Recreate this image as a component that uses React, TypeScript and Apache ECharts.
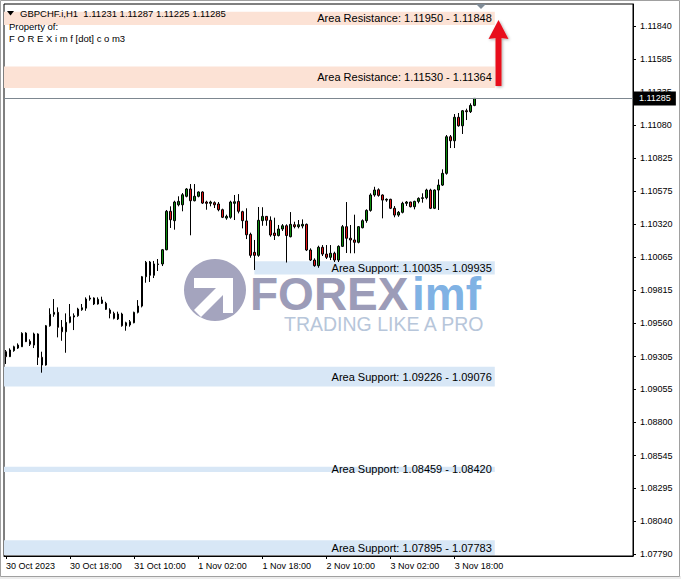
import React, { useEffect, useRef } from 'react';
import * as echarts from 'echarts';

// ---------- data ----------
const symbolName = 'GBPCHF.i,H1';
const firstBarTimeUTC = Date.UTC(2023, 9, 30, 2, 0); // 30 Oct 2023 02:00, hourly bars
const monthNames = ['Jan', 'Feb', 'Mar', 'Apr', 'May', 'Jun', 'Jul', 'Aug', 'Sep', 'Oct', 'Nov', 'Dec'];

const opens = [
  1.09342, 1.09304, 1.09350, 1.09370, 1.09380, 1.09485, 1.09422, 1.09393, 1.09478, 1.09299,
  1.09240, 1.09541, 1.09629, 1.09644, 1.09530, 1.09495, 1.09567, 1.09608, 1.09618, 1.09664,
  1.09676, 1.09746, 1.09754, 1.09708, 1.09738, 1.09713, 1.09662, 1.09636, 1.09593, 1.09631,
  1.09541, 1.09547, 1.09564, 1.09644, 1.09692, 1.09917, 1.10030, 1.09928, 1.10011, 1.10015,
  1.10124, 1.10419, 1.10347, 1.10469, 1.10469, 1.10534, 1.10590, 1.10500, 1.10534, 1.10567,
  1.10490, 1.10480, 1.10485, 1.10475, 1.10431, 1.10367, 1.10373, 1.10480, 1.10495, 1.10416,
  1.10345, 1.10242, 1.10104, 1.10081, 1.10347, 1.10380, 1.10350, 1.10252, 1.10233, 1.10283,
  1.10308, 1.10224, 1.10316, 1.10301, 1.10306, 1.10319, 1.10122, 1.10045, 1.10002, 1.10143,
  1.10091, 1.10066, 1.10097, 1.10045, 1.10150, 1.10301, 1.10212, 1.10199, 1.10181, 1.10293,
  1.10347, 1.10426, 1.10544, 1.10584, 1.10544, 1.10505, 1.10511, 1.10442, 1.10390, 1.10411,
  1.10480, 1.10490, 1.10454, 1.10495, 1.10518, 1.10523, 1.10582, 1.10442, 1.10582, 1.10620,
  1.10710, 1.10991, 1.10960, 1.11140, 1.11075, 1.11190, 1.11183, 1.11231,
];
const highs = [
  1.09355, 1.09368, 1.09388, 1.09406, 1.09491, 1.09491, 1.09437, 1.09488, 1.09483, 1.09342,
  1.09547, 1.09675, 1.09746, 1.09682, 1.09585, 1.09636, 1.09708, 1.09636, 1.09679, 1.09708,
  1.09759, 1.09774, 1.09759, 1.09759, 1.09764, 1.09725, 1.09675, 1.09649, 1.09649, 1.09641,
  1.09572, 1.09585, 1.09649, 1.09738, 1.09923, 1.10038, 1.10038, 1.10038, 1.10053, 1.10130,
  1.10429, 1.10457, 1.10500, 1.10534, 1.10559, 1.10597, 1.10628, 1.10628, 1.10572, 1.10572,
  1.10500, 1.10500, 1.10495, 1.10490, 1.10439, 1.10393, 1.10500, 1.10544, 1.10551, 1.10423,
  1.10442, 1.10255, 1.10199, 1.10452, 1.10450, 1.10383, 1.10380, 1.10370, 1.10314, 1.10321,
  1.10319, 1.10413, 1.10339, 1.10352, 1.10357, 1.10325, 1.10135, 1.10058, 1.10155, 1.10160,
  1.10160, 1.10160, 1.10109, 1.10158, 1.10314, 1.10490, 1.10314, 1.10393, 1.10306, 1.10357,
  1.10434, 1.10557, 1.10607, 1.10595, 1.10549, 1.10518, 1.10515, 1.10459, 1.10421, 1.10492,
  1.10498, 1.10492, 1.10500, 1.10526, 1.10557, 1.10592, 1.10592, 1.10587, 1.10664, 1.10741,
  1.11004, 1.11004, 1.11165, 1.11173, 1.11196, 1.11206, 1.11247, 1.11287,
];
const lows = [
  1.09248, 1.09301, 1.09342, 1.09363, 1.09378, 1.09416, 1.09386, 1.09370, 1.09240, 1.09181,
  1.09235, 1.09534, 1.09610, 1.09452, 1.09426, 1.09334, 1.09560, 1.09508, 1.09610, 1.09656,
  1.09656, 1.09733, 1.09700, 1.09703, 1.09708, 1.09662, 1.09598, 1.09590, 1.09585, 1.09534,
  1.09503, 1.09534, 1.09560, 1.09636, 1.09682, 1.09871, 1.09877, 1.09907, 1.09961, 1.09999,
  1.10120, 1.10291, 1.10278, 1.10457, 1.10419, 1.10526, 1.10235, 1.10495, 1.10526, 1.10475,
  1.10431, 1.10457, 1.10444, 1.10419, 1.10367, 1.10354, 1.10362, 1.10352, 1.10403, 1.10288,
  1.10206, 1.10063, 1.09969, 1.10070, 1.10308, 1.10308, 1.10224, 1.10199, 1.10226, 1.10268,
  1.10026, 1.10219, 1.10288, 1.10288, 1.10288, 1.10114, 1.10038, 1.09994, 1.09986, 1.10076,
  1.10053, 1.10045, 1.10030, 1.10030, 1.10145, 1.10099, 1.10097, 1.10097, 1.10173, 1.10288,
  1.10331, 1.10416, 1.10531, 1.10531, 1.10365, 1.10492, 1.10436, 1.10373, 1.10377, 1.10403,
  1.10460, 1.10449, 1.10434, 1.10480, 1.10485, 1.10511, 1.10436, 1.10436, 1.10429, 1.10613,
  1.10700, 1.10904, 1.10904, 1.11068, 1.11012, 1.11119, 1.11173, 1.11225,
];
const closes = [
  1.09304, 1.09355, 1.09380, 1.09393, 1.09483, 1.09419, 1.09399, 1.09478, 1.09299, 1.09240,
  1.09541, 1.09629, 1.09644, 1.09529, 1.09495, 1.09567, 1.09610, 1.09618, 1.09669, 1.09679,
  1.09746, 1.09754, 1.09708, 1.09744, 1.09713, 1.09667, 1.09636, 1.09598, 1.09631, 1.09541,
  1.09564, 1.09572, 1.09644, 1.09692, 1.09917, 1.10028, 1.09928, 1.10015, 1.10015, 1.10124,
  1.10419, 1.10354, 1.10490, 1.10495, 1.10546, 1.10590, 1.10500, 1.10534, 1.10567, 1.10482,
  1.10480, 1.10490, 1.10469, 1.10431, 1.10373, 1.10380, 1.10490, 1.10492, 1.10419, 1.10347,
  1.10239, 1.10081, 1.10081, 1.10350, 1.10380, 1.10350, 1.10237, 1.10233, 1.10283, 1.10308,
  1.10233, 1.10319, 1.10301, 1.10316, 1.10319, 1.10122, 1.10045, 1.10002, 1.10143, 1.10091,
  1.10066, 1.10097, 1.10045, 1.10150, 1.10301, 1.10212, 1.10199, 1.10181, 1.10301, 1.10347,
  1.10426, 1.10544, 1.10582, 1.10541, 1.10505, 1.10511, 1.10442, 1.10390, 1.10411, 1.10480,
  1.10490, 1.10454, 1.10495, 1.10518, 1.10523, 1.10582, 1.10442, 1.10582, 1.10620, 1.10710,
  1.10991, 1.10960, 1.11140, 1.11075, 1.11190, 1.11183, 1.11231, 1.11285,
];

const emptyShiftBars = 39; // chart shift space to the right of the last bar
const labelEvery = 16;

const priceTicks = [
  1.11840, 1.11585, 1.11335, 1.11080, 1.10825, 1.10575, 1.10320, 1.10065, 1.09815,
  1.09560, 1.09305, 1.09055, 1.08800, 1.08545, 1.08295, 1.08040, 1.07790,
];
const priceMin = 1.07775;
const priceMax = 1.12009;

const resistanceZones = [
  [1.11950, 1.11848],
  [1.11530, 1.11364],
];
const supportZones = [
  [1.10035, 1.09935],
  [1.09226, 1.09076],
  [1.08459, 1.08420],
  [1.07895, 1.07783],
];
const supportZoneStartBar = [62, null, null, null];
const zoneEndBar = 122;

// ---------- derived ----------
const barCount = opens.length;
const pad2 = (n: number) => (n < 10 ? '0' + n : '' + n);
const categories = Array.from({ length: barCount + emptyShiftBars }, (_, i) => {
  if (i >= barCount) return '';
  const d = new Date(firstBarTimeUTC + i * 3600000);
  const day = d.getUTCDate();
  const mon = monthNames[d.getUTCMonth()];
  if (i === 0) return `${day} ${mon} ${d.getUTCFullYear()}`;
  return `${day} ${mon} ${pad2(d.getUTCHours())}:${pad2(d.getUTCMinutes())}`;
});
const ohlc = opens.map((o, i) => [o, closes[i], lows[i], highs[i]]);
const last = barCount - 1;
const lastClose = closes[last];
const headerText = `${symbolName}  ${opens[last].toFixed(5)} ${highs[last].toFixed(5)} ${lows[last].toFixed(5)} ${closes[last].toFixed(5)}`;
const isLabelIdx = (idx: number) => idx % labelEvery === 0 && idx < barCount;

const FONT = 'Liberation Sans';
const RES_COLOR = '#fce2d5';
const SUP_COLOR = '#d8e7f6';

const zoneLabel = (text: string) => ({
  show: true,
  position: 'insideRight',
  distance: 3,
  formatter: text,
  color: '#000',
  fontSize: 11,
  fontFamily: FONT,
});

const markAreaData: any[] = [];
resistanceZones.forEach(([hi, lo]) => {
  markAreaData.push([
    { yAxis: hi, itemStyle: { color: RES_COLOR }, label: zoneLabel(`Area Resistance: ${hi.toFixed(5)} - ${lo.toFixed(5)}`) },
    { yAxis: lo, xAxis: zoneEndBar },
  ]);
});
supportZones.forEach(([hi, lo], k) => {
  const start = supportZoneStartBar[k];
  const first: any = { yAxis: hi, itemStyle: { color: SUP_COLOR }, label: zoneLabel(`Area Support: ${hi.toFixed(5)} - ${lo.toFixed(5)}`) };
  if (start !== null) first.xAxis = start;
  markAreaData.push([first, { yAxis: lo, xAxis: zoneEndBar }]);
});

const option: any = {
  animation: false,
  backgroundColor: '#ffffff',
  textStyle: { fontFamily: FONT },
  grid: {
    left: 4,
    top: 4,
    width: 629,
    height: 552,
    show: true,
    borderColor: '#000',
    borderWidth: 1,
    backgroundColor: 'transparent',
  },
  xAxis: {
    type: 'category',
    data: categories,
    boundaryGap: true,
    axisLine: { show: true, lineStyle: { color: '#000', width: 1 } },
    axisTick: { show: true, alignWithLabel: true, length: 3, interval: isLabelIdx, lineStyle: { color: '#000' } },
    axisLabel: { interval: isLabelIdx, align: 'left', margin: 5, fontSize: 9, color: '#000', fontFamily: FONT },
    splitLine: { show: false },
  },
  yAxis: {
    type: 'value',
    position: 'right',
    min: priceMin,
    max: priceMax,
    axisLine: { show: true, lineStyle: { color: '#000', width: 1 } },
    axisTick: { show: true, length: 3, customValues: priceTicks, lineStyle: { color: '#000' } },
    axisLabel: {
      customValues: priceTicks,
      margin: 7,
      fontSize: 9,
      color: '#000',
      fontFamily: FONT,
      formatter: (v: number) => v.toFixed(5),
    },
    splitLine: { show: false },
  },
  series: [
    {
      type: 'candlestick',
      data: ohlc,
      barWidth: 2,
      z: 3,
      itemStyle: {
        color: '#0b8a0b',
        color0: '#e01414',
        borderColor: '#000',
        borderColor0: '#000',
        borderColorDoji: '#000',
        borderWidth: 1,
      },
      markArea: {
        silent: true,
        z: 1,
        data: markAreaData,
      },
    },
    {
      // current bid price line
      type: 'line',
      data: [],
      z: 4,
      silent: true,
      markLine: {
        silent: true,
        precision: 5,
        symbol: ['none', 'none'],
        data: [{ yAxis: lastClose }],
        lineStyle: { color: '#7d8790', width: 1, type: 'solid' },
        label: {
          show: true,
          position: 'end',
          distance: 1,
          formatter: lastClose.toFixed(5),
          color: '#fff',
          backgroundColor: '#000',
          padding: [3, 5, 2, 5],
          fontSize: 9,
          fontFamily: FONT,
        },
      },
    },
  ],
  graphic: [
    // outer window frame
    { type: 'rect', z: 0, silent: true, shape: { x: 0, y: 576, width: 681, height: 3 }, style: { fill: '#ececec' } },
    { type: 'rect', z: 100, silent: true, shape: { x: 0.5, y: 0.5, width: 679, height: 576 }, style: { fill: 'none', stroke: '#a0a0a0', lineWidth: 1 } },
    // watermark logo
    { type: 'circle', z: 1, silent: true, shape: { cx: 215, cy: 290, r: 31 }, style: { fill: '#a4a4be' } },
    {
      type: 'polygon', z: 1, silent: true,
      shape: { points: [[194, 278], [233, 278], [233, 313], [223, 313], [223, 295], [201, 317], [194, 310], [216, 288], [194, 288]] },
      style: { fill: '#ffffff' },
    },
    { type: 'text', z: 1, silent: true, x: 250, y: 294, style: { text: 'FOREX', fontSize: 46, lineHeight: 34, fontWeight: 'bold', fontFamily: FONT, fill: '#9c9cb8', verticalAlign: 'middle', textVerticalAlign: 'middle' } },
    { type: 'text', z: 1, silent: true, x: 412, y: 294, style: { text: 'imf', fontSize: 46, lineHeight: 34, fontWeight: 'bold', fontFamily: FONT, fill: '#80b2e4', verticalAlign: 'middle', textVerticalAlign: 'middle' } },
    { type: 'text', z: 1, silent: true, x: 284, y: 323.5, style: { text: 'TRADING LIKE A PRO', fontSize: 19.5, lineHeight: 15, fontFamily: FONT, fill: '#b7c6da', verticalAlign: 'middle', textVerticalAlign: 'middle' } },
    // header
    { type: 'polygon', z: 10, silent: true, shape: { points: [[7, 11], [14, 11], [10.5, 15.5]] }, style: { fill: '#000' } },
    { type: 'text', z: 10, silent: true, x: 20, y: 13.5, style: { text: headerText, fontSize: 9.5, fontFamily: FONT, fill: '#000', verticalAlign: 'middle', textVerticalAlign: 'middle' } },
    { type: 'text', z: 10, silent: true, x: 9, y: 26, style: { text: 'Property of:', fontSize: 9.5, fontFamily: FONT, fill: '#000', verticalAlign: 'middle', textVerticalAlign: 'middle' } },
    { type: 'text', z: 10, silent: true, x: 9, y: 38, style: { text: 'F O R E X i m f [dot] c o m3', fontSize: 9.5, fontFamily: FONT, fill: '#000', verticalAlign: 'middle', textVerticalAlign: 'middle' } },
    // chart shift marker
    { type: 'polygon', z: 10, silent: true, shape: { points: [[476, 4], [486, 4], [481, 9]] }, style: { fill: '#7f8b97' } },
    // red arrow
    {
      type: 'polygon', z: 10, silent: true,
      shape: { points: [[498.5, 20], [508.5, 39], [501.5, 38], [501.5, 86], [495.5, 86], [495.5, 38], [488.5, 39]] },
      style: { fill: '#e8101c', shadowBlur: 3, shadowColor: 'rgba(0,0,0,0.35)', shadowOffsetX: 1, shadowOffsetY: 1 },
    },
  ],
};

export default function App() {
  const ref = useRef<HTMLDivElement>(null);
  useEffect(() => {
    if (!ref.current) return;
    const chart = echarts.init(ref.current, null, { renderer: 'svg' });
    chart.setOption(option);
    return () => chart.dispose();
  }, []);
  return <div ref={ref} style={{ position: 'fixed', left: 0, top: 0, width: 681, height: 579 }} />;
}
